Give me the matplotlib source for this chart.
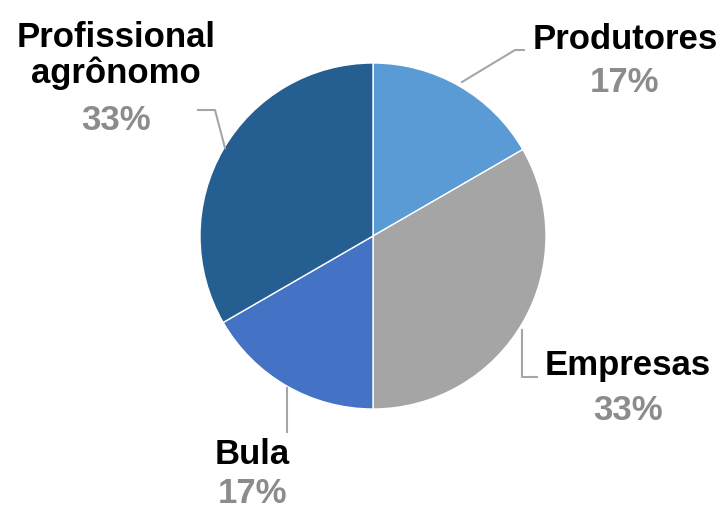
import numpy as np
import matplotlib.pyplot as plt

plt.rcParams['font.family'] = ['Liberation Sans', 'DejaVu Sans']

labels = ['Produtores', 'Empresas', 'Bula', 'Profissional\nagrônomo']
shares = [1, 2, 1, 2]
colors = ['#5B9BD5', '#A5A5A5', '#4472C4', '#255E91']

# label x centre, baseline of the name (last line) and of the percentage,
# in pixel space with y measured from the top
label_x = [625, 628, 252, 116]
name_base = [49, 375, 464, 83]
pct_base = [92, 420, 503, 130]
# leader lines as polylines from the wedge edge to the label
leaders = [
    [(462, 82), (515, 50), (524, 50)],
    [(522, 330), (522, 377), (537, 377)],
    [(287, 388), (287, 432)],
    [(225, 148), (215, 110), (198, 110)],
]

W, H = 723, 509
fig = plt.figure(figsize=(W / 100, H / 100), dpi=100)
ax = fig.add_axes([0, 0, 1, 1])

cx, cy, r = 373, 236, 173
ax.pie(shares, colors=colors, startangle=90, counterclock=False,
       center=(cx, H - cy), radius=r,
       wedgeprops=dict(edgecolor='white', linewidth=1))
ax.set_xlim(0, W)
ax.set_ylim(0, H)
ax.set_aspect('equal')
ax.axis('off')

total = sum(shares)
for i, (lab, val) in enumerate(zip(labels, shares)):
    pct = '{:.0f}%'.format(100 * val / total)
    ax.text(label_x[i], H - name_base[i], lab, ha='center', va='baseline',
            fontsize=25, fontweight='bold', color='black', linespacing=1.1)
    ax.text(label_x[i], H - pct_base[i], pct, ha='center', va='baseline',
            fontsize=25, fontweight='bold', color='#8C8C8C')
    xs = [p[0] for p in leaders[i]]
    ys = [H - p[1] for p in leaders[i]]
    ax.plot(xs, ys, color='#A6A6A6', linewidth=1.5)

fig.savefig('out.png', dpi=100)
